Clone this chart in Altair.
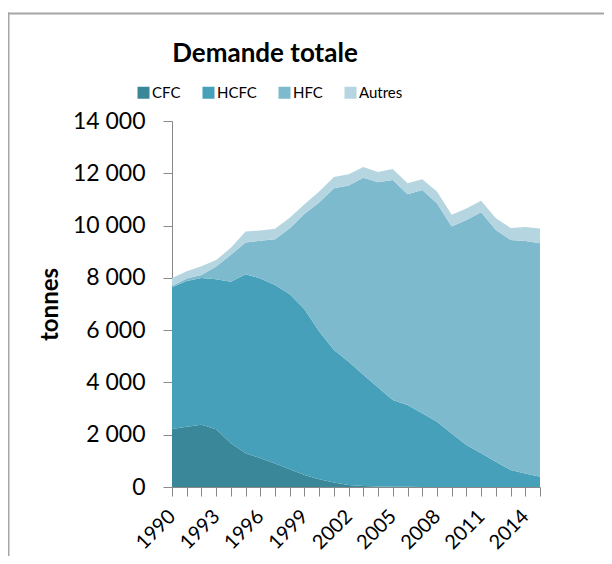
import altair as alt
import pandas as pd

years = list(range(1990, 2016))
series_names = ["CFC", "HCFC", "HFC", "Autres"]
series_colors = ["#3a8799", "#46a0ba", "#7ebace", "#b5d5e0"]

cfc = [2220, 2300, 2380, 2210, 1670, 1290, 1100, 900, 680, 460, 300, 170, 80,
       40, 20, 10, 5, 0, 0, 0, 0, 0, 0, 0, 0, 0]
hcfc = [5420, 5580, 5610, 5740, 6180, 6850, 6880, 6830, 6690, 6340, 5650, 5070,
        4710, 4250, 3790, 3320, 3135, 2820, 2500, 2050, 1610, 1290, 970, 650, 520, 390]
hfc = [50, 100, 120, 480, 1030, 1210, 1440, 1750, 2530, 3650, 4930, 6190, 6740,
       7540, 7850, 8410, 8060, 8540, 8350, 7910, 8600, 9220, 8860, 8800, 8890, 8930]
autres = [300, 270, 330, 250, 270, 420, 390, 400, 400, 370, 420, 430, 430, 410,
          390, 420, 420, 410, 450, 450, 440, 440, 450, 460, 540, 570]

y_ticks = list(range(0, 14001, 2000))

rows = []
for k, (name, vals) in enumerate(zip(series_names, [cfc, hcfc, hfc, autres])):
    for yr, v in zip(years, vals):
        rows.append({"year": yr, "series": name, "value": v, "order": k})
df = pd.DataFrame(rows)

FONT = "Lato"
AXIS_GRAY = "#898989"

area = alt.Chart(df).mark_area(interpolate="linear").encode(
    x=alt.X(
        "year:Q",
        scale=alt.Scale(domain=[1990, 2015], nice=False, zero=False),
        axis=alt.Axis(
            values=years, format="d",
            labelExpr="(datum.value - 1990) % 3 == 0 ? datum.label : ''",
            labelAngle=-45, labelAlign="right", labelBaseline="middle",
            labelPadding=17, tickSize=9, title=None, labelOverlap=False,
            labelBound=False, grid=False, labelFont=FONT, labelFontSize=20,
            labelColor="#000000", domainColor=AXIS_GRAY, tickColor=AXIS_GRAY,
        ),
    ),
    y=alt.Y(
        "value:Q", stack="zero",
        scale=alt.Scale(domain=[0, 14000], nice=False),
        axis=alt.Axis(
            values=y_ticks,
            labelExpr="replace(format(datum.value, ','), ',', ' ')",
            title="tonnes", titleFont=FONT, titleFontSize=24, titleFontWeight="bold",
            titleColor="#000000", titlePadding=10,
            labelPadding=18, tickSize=9, grid=False, labelFont=FONT,
            labelFontSize=23, labelColor="#000000", domainColor=AXIS_GRAY,
            tickColor=AXIS_GRAY,
        ),
    ),
    color=alt.Color(
        "series:N",
        scale=alt.Scale(domain=series_names, range=series_colors),
        sort=series_names,
        legend=alt.Legend(
            title=None, orient="none", legendX=-36, legendY=-36,
            direction="horizontal", symbolType="square", symbolSize=144,
            symbolStrokeWidth=0, labelFont=FONT, labelFontSize=15,
            labelColor="#000000", labelOffset=1, columnPadding=20, padding=0,
        ),
    ),
    order=alt.Order("order:Q"),
)

frame_data = alt.Data(values=[{"k": 0}])
top_rule = alt.Chart(frame_data).mark_rule(color="#a6a6a6", strokeWidth=2).encode(
    x=alt.value(-164), x2=alt.value(440), y=alt.value(-107.5)
)
left_rule = alt.Chart(frame_data).mark_rule(color="#a6a6a6", strokeWidth=2).encode(
    x=alt.value(-163.5), y=alt.value(-108.5), y2=alt.value(440)
)

chart = alt.layer(area, top_rule, left_rule).properties(
    width=368, height=366,
    title=alt.Title("Demande totale", font=FONT, fontSize=26, fontWeight="bold",
                    color="#000000", anchor="middle", frame="group", dx=-91,
                    baseline="alphabetic", offset=-76),
    padding={"left": 164, "top": 113, "right": 64, "bottom": 69},
    autosize=alt.AutoSizeParams(type="none"),
    background="white",
).configure_view(stroke=None)

chart.save("out.html", embed_options={"renderer": "svg", "actions": False})
